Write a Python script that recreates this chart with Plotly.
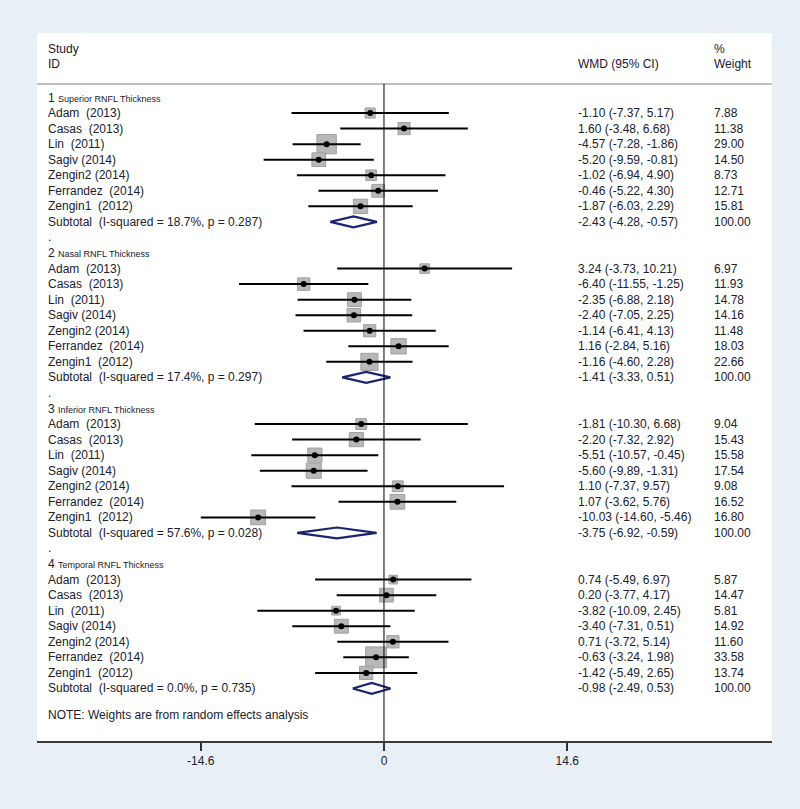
import plotly.graph_objects as go

groups = ["Superior RNFL Thickness", "Nasal RNFL Thickness", "Inferior RNFL Thickness", "Temporal RNFL Thickness"]
studies = ["Adam&nbsp; (2013)", "Casas&nbsp; (2013)", "Lin&nbsp; (2011)", "Sagiv (2014)",
           "Zengin2 (2014)", "Ferrandez&nbsp; (2014)", "Zengin1&nbsp; (2012)"]

est = [
    [-1.10, 1.60, -4.57, -5.20, -1.02, -0.46, -1.87],
    [3.24, -6.40, -2.35, -2.40, -1.14, 1.16, -1.16],
    [-1.81, -2.20, -5.51, -5.60, 1.10, 1.07, -10.03],
    [0.74, 0.20, -3.82, -3.40, 0.71, -0.63, -1.42],
]
lo = [
    [-7.37, -3.48, -7.28, -9.59, -6.94, -5.22, -6.03],
    [-3.73, -11.55, -6.88, -7.05, -6.41, -2.84, -4.60],
    [-10.30, -7.32, -10.57, -9.89, -7.37, -3.62, -14.60],
    [-5.49, -3.77, -10.09, -7.31, -3.72, -3.24, -5.49],
]
hi = [
    [5.17, 6.68, -1.86, -0.81, 4.90, 4.30, 2.29],
    [10.21, -1.25, 2.18, 2.25, 4.13, 5.16, 2.28],
    [6.68, 2.92, -0.45, -1.31, 9.57, 5.76, -5.46],
    [6.97, 4.17, 2.45, 0.51, 5.14, 1.98, 2.65],
]
weights = [
    [7.88, 11.38, 29.00, 14.50, 8.73, 12.71, 15.81],
    [6.97, 11.93, 14.78, 14.16, 11.48, 18.03, 22.66],
    [9.04, 15.43, 15.58, 17.54, 9.08, 16.52, 16.80],
    [5.87, 14.47, 5.81, 14.92, 11.60, 33.58, 13.74],
]
sub_est = [-2.43, -1.41, -3.75, -0.98]
sub_lo = [-4.28, -3.33, -6.92, -2.49]
sub_hi = [-0.57, 0.51, -0.59, 0.53]
i2 = ["18.7%", "17.4%", "57.6%", "0.0%"]
pvals = ["0.287", "0.297", "0.028", "0.735"]
tick_vals = [-14.6, 0, 14.6]
tick_text = ["-14.6", "0", "14.6"]

FONT = "Liberation Sans, Arial, sans-serif"
TXT = "#20202e"
X_LABEL, X_WMD, X_W = -26.77, 15.46, 26.29

fig = go.Figure()
ann = []

def add_text(x, y, s, size=12):
    ann.append(dict(x=x, y=y, xref="x", yref="y", text=s, showarrow=False,
                    xanchor="left", yanchor="middle", xshift=-2,
                    font=dict(family=FONT, size=size, color=TXT)))

# header
add_text(X_LABEL, -3.12, "Study")
add_text(X_LABEL, -2.15, "ID")
add_text(X_WMD, -2.15, "WMD (95% CI)")
add_text(X_W, -3.12, "%")
add_text(X_W, -2.15, "Weight")

row = 0
for g in range(4):
    add_text(X_LABEL, row, f"{g+1} <span style='font-size:9px'>{groups[g]}</span>")
    row += 1
    for s in range(7):
        e, l, h, w = est[g][s], lo[g][s], hi[g][s], weights[g][s]
        fig.add_trace(go.Scatter(x=[e], y=[row], mode="markers",
                                 marker=dict(symbol="square", size=3.6 * w ** 0.5, color="#b8b8b8",
                                             line=dict(color="#a0a0a0", width=1)),
                                 showlegend=False, hoverinfo="skip"))
        fig.add_trace(go.Scatter(x=[l, h], y=[row, row], mode="lines",
                                 line=dict(color="black", width=2), showlegend=False, hoverinfo="skip"))
        fig.add_trace(go.Scatter(x=[e], y=[row], mode="markers",
                                 marker=dict(symbol="circle", size=6, color="black"),
                                 showlegend=False, hoverinfo="skip"))
        add_text(X_LABEL, row, studies[s])
        add_text(X_WMD, row, f"{e:.2f} ({l:.2f}, {h:.2f})")
        add_text(X_W, row, f"{w:.2f}")
        row += 1
    se, sl, sh = sub_est[g], sub_lo[g], sub_hi[g]
    fig.add_trace(go.Scatter(x=[sl, se, sh, se, sl], y=[row, row - 0.35, row, row + 0.35, row],
                             mode="lines", fill="toself", fillcolor="white",
                             line=dict(color="#1b2470", width=2.2), showlegend=False, hoverinfo="skip"))
    add_text(X_LABEL, row, f"Subtotal&nbsp; (I-squared = {i2[g]}, p = {pvals[g]})")
    add_text(X_WMD, row, f"{se:.2f} ({sl:.2f}, {sh:.2f})")
    add_text(X_W, row, "100.00")
    row += 1
    if g < 3:
        add_text(X_LABEL, row, ".")
        row += 1

add_text(X_LABEL, 39.71, "NOTE: Weights are from random effects analysis")

shapes = [
    dict(type="line", xref="paper", yref="y", x0=0, x1=1, y0=-0.87, y1=-0.87,
         line=dict(color="#a8a8a8", width=1.5)),
    dict(type="line", xref="x", yref="y", x0=0, x1=0, y0=-0.87, y1=41.38,
         line=dict(color="black", width=1)),
]

fig.update_layout(
    width=800, height=809,
    margin=dict(l=37, r=28, t=33, b=68),
    paper_bgcolor="#e8eff5", plot_bgcolor="white",
    annotations=ann, shapes=shapes, showlegend=False,
    xaxis=dict(range=[-27.65, 30.92], showgrid=False, zeroline=False,
               tickvals=tick_vals, ticktext=tick_text, ticks="outside", ticklen=8,
               tickcolor="#333333", tickwidth=1.5, showline=True, linecolor="#3a3a3a", linewidth=2,
               tickfont=dict(family=FONT, size=12, color=TXT), fixedrange=True),
    yaxis=dict(range=[41.38, -4.148], visible=False, showgrid=False, zeroline=False, fixedrange=True),
)

fig.write_html("out.html", config={"displayModeBar": False},
               post_script="document.body.style.margin='0px';")
